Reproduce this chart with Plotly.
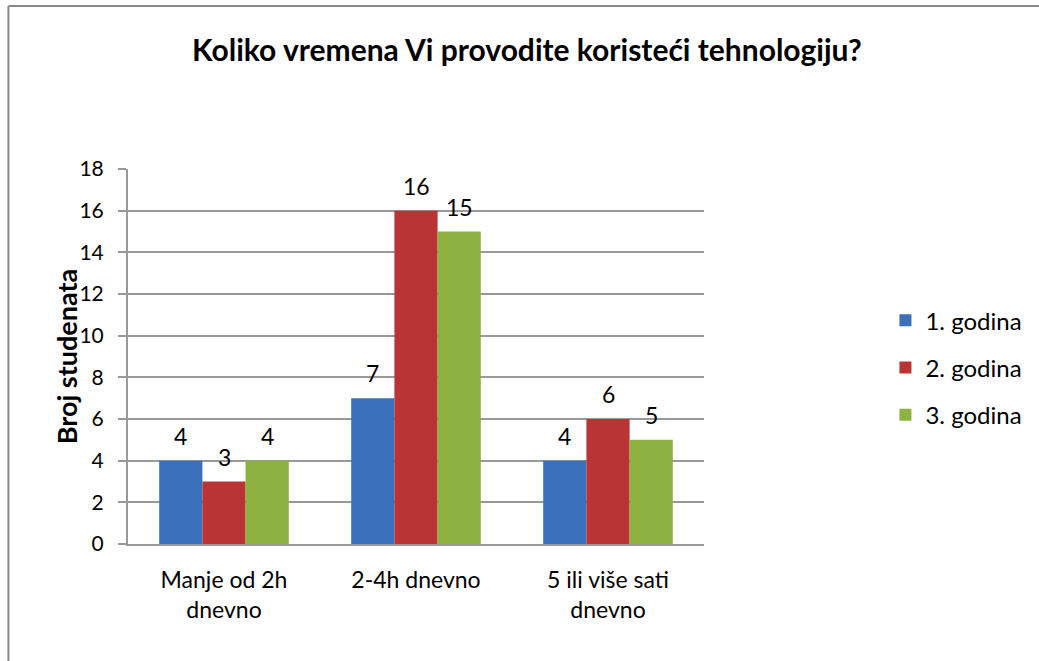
import plotly.graph_objects as go

categories = ["Manje od 2h<br>dnevno", "2-4h dnevno", "5 ili više sati<br>dnevno"]
series_names = ["1. godina", "2. godina", "3. godina"]
godina_1 = [4, 7, 4]
godina_2 = [3, 16, 6]
godina_3 = [4, 15, 5]
y_ticks = [0, 2, 4, 6, 8, 10, 12, 14, 16, 18]

colors = ["#3A70B9", "#B83533", "#8DB241"]
FONT = "Lato, 'Open Sans', sans-serif"

W, H = 1039, 661
L, T, R, B = 128, 169, 333, 117
pw = W - L - R
ph = H - T - B
BARGAP = 0.325

fig = go.Figure()

all_series = [godina_1, godina_2, godina_3]
for i, (name, vals) in enumerate(zip(series_names, all_series)):
    fig.add_trace(go.Bar(
        x=categories,
        y=vals,
        name=name,
        legendgroup=name,
        marker=dict(color=colors[i], line=dict(width=0)),
    ))

# value labels sit a bit higher than plotly's "outside" text, so use annotations
bar_px = pw / len(categories) * (1 - BARGAP) / len(series_names)
for i, vals in enumerate(all_series):
    for cat, v in zip(categories, vals):
        fig.add_annotation(
            x=cat, y=v, xref="x", yref="y",
            text=str(v), showarrow=False,
            yanchor="bottom", yshift=9,
            xshift=(i - 1) * bar_px,
            font=dict(size=23, color="black", family=FONT),
        )

fig.update_layout(
    width=W,
    height=H,
    margin=dict(l=L, r=R, t=T, b=B),
    paper_bgcolor="white",
    plot_bgcolor="white",
    font=dict(family=FONT, size=21, color="black"),
    bargap=BARGAP,
    bargroupgap=0,
    title=dict(
        text="<b>Koliko vremena Vi provodite koristeći tehnologiju?</b>",
        x=527 / W, xref="container", xanchor="center",
        y=1 - 50 / H, yref="container", yanchor="middle",
        font=dict(size=30, family=FONT, color="black"),
    ),
    xaxis=dict(
        showline=True, linecolor="#999999", linewidth=2,
        ticks="", showgrid=False,
        tickfont=dict(size=23),
        ticklabelstandoff=14,
    ),
    yaxis=dict(
        range=[0, 18],
        tickvals=y_ticks,
        showline=True, linecolor="#999999", linewidth=2,
        ticks="outside", ticklen=8, tickcolor="#999999", tickwidth=2,
        showgrid=True, gridcolor="#999999", gridwidth=1.5,
        zeroline=False,
        tickfont=dict(size=21),
        ticklabelstandoff=10,
    ),
    legend=dict(
        x=1.315, xanchor="left",
        y=0.47, yanchor="middle",
        tracegroupgap=13,
        font=dict(size=24),
        itemwidth=30,
    ),
    showlegend=True,
)

# y axis title
fig.add_annotation(
    text="<b>Broj studenata</b>",
    xref="paper", yref="paper",
    x=(48 - L) / pw, y=0.5,
    textangle=-90, showarrow=False,
    font=dict(size=27, family=FONT, color="black"),
)

# chart frame (only top and left edges are visible)
x_left = (8 - L) / pw
y_top = (ph + T - 6) / ph
fig.add_shape(type="line", xref="paper", yref="paper",
              x0=x_left, x1=2, y0=y_top, y1=y_top,
              line=dict(color="#888888", width=2))
fig.add_shape(type="line", xref="paper", yref="paper",
              x0=x_left, x1=x_left, y0=-1, y1=y_top,
              line=dict(color="#888888", width=2))

# drop the default page margin so the figure fills the window exactly
fig.write_html(
    "out.html",
    config={"displayModeBar": False},
    post_script="document.body.style.margin='0';document.body.style.overflow='hidden';",
)
